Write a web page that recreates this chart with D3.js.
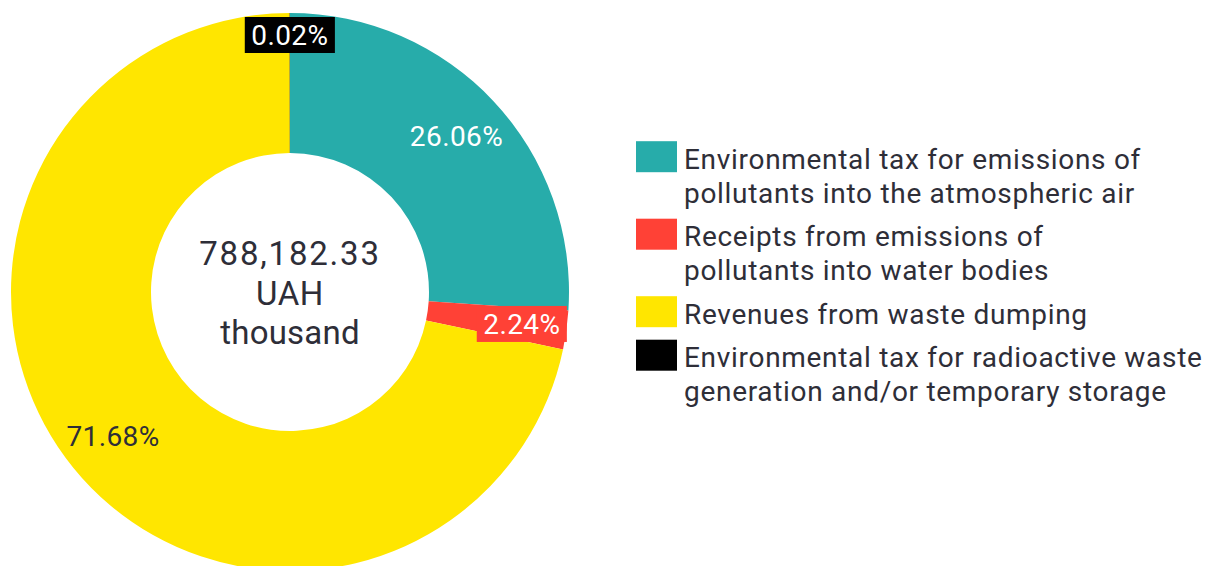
<!DOCTYPE html>
<html>
<head>
<meta charset="utf-8">
<script src="https://cdn.jsdelivr.net/npm/d3@7"></script>
<style>
  html, body { margin: 0; padding: 0; background: #ffffff; }
  svg { display: block; }
  text { font-family: Roboto, "Open Sans", "Liberation Sans", sans-serif; }
</style>
</head>
<body>
<svg id="chart" width="1206" height="566"></svg>
<script>
// Environmental tax revenue structure, % of total
const categories = [
  "Environmental tax for emissions of\npollutants into the atmospheric air",
  "Receipts from emissions of\npollutants into water bodies",
  "Revenues from waste dumping",
  "Environmental tax for radioactive waste\ngeneration and/or temporary storage"
];
const shares = [26.06, 2.24, 71.68, 0.02];
const shareLabels = ["26.06%", "2.24%", "71.68%", "0.02%"];
const colors = ["#27ACAA", "#FF4136", "#FFE600", "#000000"];
const totalLines = ["788,182.33", "UAH", "thousand"];

const ink = "#2E2E38";
const svg = d3.select("#chart");

const cx = 290, cy = 292;
const outerR = 279, innerR = 139;

const pie = d3.pie().sort(null).value(d => d).startAngle(0).endAngle(2 * Math.PI);
const arcs = pie(shares);
const arc = d3.arc().innerRadius(innerR).outerRadius(outerR);

const g = svg.append("g").attr("transform", `translate(${cx},${cy})`);

g.selectAll("path.slice")
  .data(arcs)
  .join("path")
  .attr("class", "slice")
  .attr("d", arc)
  .attr("fill", (d, i) => colors[i]);

// Slice labels; thin slices get a boxed label in the slice colour
function labelRadius(d) {
  if (d.data < 0.5) return outerR - 22;
  if (d.data < 5) return 234;
  return 228;
}
const labelFont = 28;
const labels = g.selectAll("g.lbl")
  .data(arcs)
  .join("g")
  .attr("class", "lbl")
  .attr("transform", d => {
    const a = (d.startAngle + d.endAngle) / 2;
    const r = labelRadius(d);
    return `translate(${r * Math.sin(a)},${-r * Math.cos(a)})`;
  });

labels.each(function (d, i) {
  const sel = d3.select(this);
  const boxed = d.data < 5;
  const t = sel.append("text")
    .attr("text-anchor", "middle")
    .attr("dy", "0.36em")
    .attr("font-size", labelFont)
    .attr("letter-spacing", "0.4px")
    .attr("fill", i === 2 ? ink : "#ffffff")
    .text(shareLabels[i]);
  if (boxed) {
    const w = t.node().getComputedTextLength();
    sel.insert("rect", "text")
      .attr("x", -w / 2 - 6.5)
      .attr("y", -18)
      .attr("width", w + 13)
      .attr("height", 36)
      .attr("fill", colors[i]);
  }
});

// Total in the centre
const centre = g.append("text")
  .attr("text-anchor", "middle")
  .attr("font-size", 33)
  .attr("fill", ink);
const centreBaselines = [-27, 13, 52];
const centreSpacing = [1.8, 0.6, 0.2];
totalLines.forEach((s, k) => {
  centre.append("tspan")
    .attr("x", 0)
    .attr("y", centreBaselines[k])
    .attr("letter-spacing", centreSpacing[k] + "px")
    .text(s);
});

// Legend
const legend = svg.append("g").attr("transform", "translate(636,0)");
const lineH = 34, itemGap = 9.5;
let base = 168.7;
categories.forEach((c, i) => {
  const lines = c.split("\n");
  const item = legend.append("g");
  item.append("rect")
    .attr("x", 0)
    .attr("y", base - 27.5)
    .attr("width", 41)
    .attr("height", 31)
    .attr("fill", colors[i]);
  const t = item.append("text")
    .attr("font-size", 28)
    .attr("letter-spacing", "0.7px")
    .attr("fill", ink);
  lines.forEach((s, k) => {
    t.append("tspan").attr("x", 48).attr("y", base + k * lineH).text(s);
  });
  base += lines.length * lineH + itemGap;
});
</script>
</body>
</html>
